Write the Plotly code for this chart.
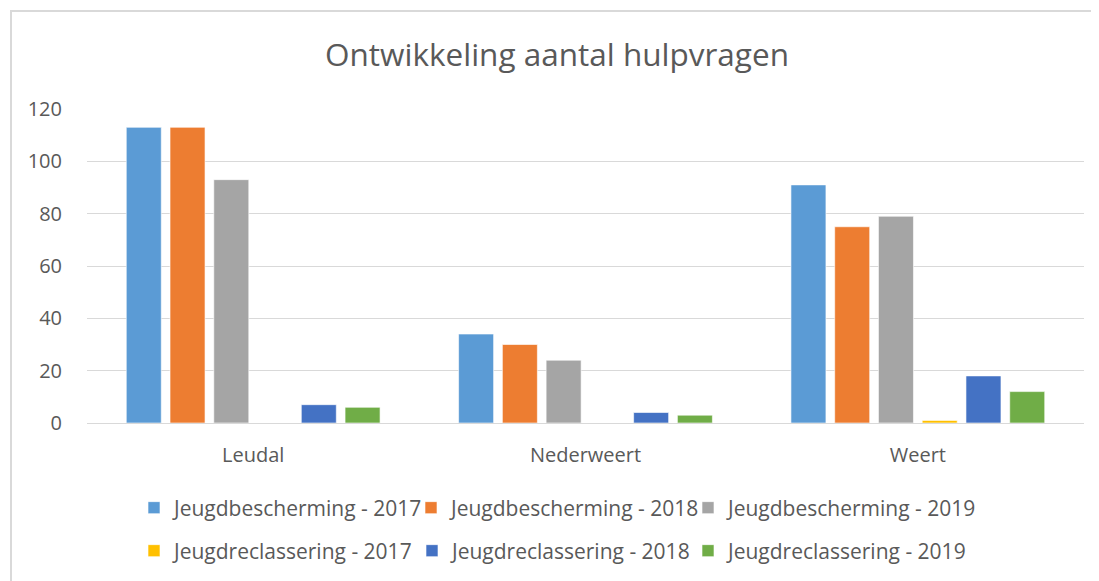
import plotly.graph_objects as go

categories = ["Leudal", "Nederweert", "Weert"]

series_names = [
    "Jeugdbescherming - 2017",
    "Jeugdbescherming - 2018",
    "Jeugdbescherming - 2019",
    "Jeugdreclassering - 2017",
    "Jeugdreclassering - 2018",
    "Jeugdreclassering - 2019",
]

jb_2017 = [113, 34, 91]
jb_2018 = [113, 30, 75]
jb_2019 = [93, 24, 79]
jr_2017 = [0, 0, 1]
jr_2018 = [7, 4, 18]
jr_2019 = [6, 3, 12]

series_values = [jb_2017, jb_2018, jb_2019, jr_2017, jr_2018, jr_2019]
colors = ["#5B9BD5", "#ED7D31", "#A5A5A5", "#FFC000", "#4472C4", "#70AD47"]

y_ticks = [0, 20, 40, 60, 80, 100, 120]

FONT = "Open Sans"
TXT = "#595959"

OFF = 8  # default page body margin
W, H = 1099 - OFF, 581 - OFF
L = 87 - OFF
T = 109 - OFF
R = W - (1084 - OFF)
B = H - (423 - OFF)
PW = W - L - R
PH = H - T - B

# legend entry anchor positions (reference pixel coords: text start, row centre)
legend_text_x = [174, 451, 728, 174, 452, 728]
legend_row_y = [508, 508, 508, 551, 551, 551]

fig = go.Figure()
legend_layouts = {}
for i, (name, vals, col) in enumerate(zip(series_names, series_values, colors)):
    key = "legend" if i == 0 else f"legend{i + 1}"
    fig.add_trace(go.Bar(
        x=categories, y=vals, name=name, showlegend=True,
        marker=dict(color=col, line=dict(color="rgba(255,255,255,0.6)", width=1)),
        legend=key,
    ))
    legend_layouts[key] = dict(
        orientation="h", xref="container", yref="container",
        x=(legend_text_x[i] - 40 - OFF) / W, xanchor="left",
        y=1 - (legend_row_y[i] - OFF) / H, yanchor="middle",
        font=dict(size=21, color=TXT), bgcolor="rgba(0,0,0,0)",
    )

fig.update_layout(
    width=W, height=H,
    showlegend=True,
    margin=dict(l=L, r=R, t=T, b=B),
    paper_bgcolor="white", plot_bgcolor="white",
    barmode="group", bargap=0.21, bargroupgap=0.2,
    font=dict(family=FONT, color=TXT, size=20),
    title=dict(text="Ontwikkeling aantal hulpvragen",
               font=dict(family=FONT, size=31.5, color=TXT),
               x=(557 - OFF) / W, xref="container", xanchor="center",
               y=1 - (55 - OFF) / H, yref="container", yanchor="middle"),
    xaxis=dict(showgrid=False, showline=False, ticks="",
               tickfont=dict(size=20, color=TXT), ticklabelstandoff=18),
    yaxis=dict(range=[0, 120], tickvals=y_ticks, showgrid=True,
               gridcolor="#D9D9D9", gridwidth=1, zeroline=True,
               zerolinecolor="#D9D9D9", zerolinewidth=1, showline=False,
               ticks="", tickfont=dict(size=20, color=TXT), ticklabelstandoff=24),
    shapes=[dict(type="rect", xref="paper", yref="paper",
                 x0=(11 - 87) / PW, x1=(1099 + 10 - 87) / PW,
                 y0=-(581 + 10 - 423) / PH, y1=(423 - 11) / PH,
                 line=dict(color="#D9D9D9", width=2), fillcolor="rgba(0,0,0,0)",
                 layer="below")],
    **legend_layouts,
)

fig.write_html("out.html")
